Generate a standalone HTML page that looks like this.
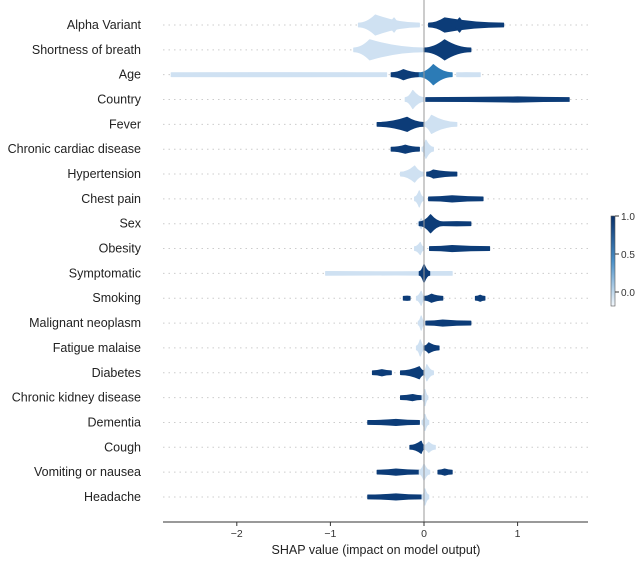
<!DOCTYPE html>
<html><head><meta charset="utf-8"><style>
body{margin:0;background:#fff;font-family:"Liberation Sans",sans-serif}
</style></head><body>
<svg id="chart" width="640" height="559" xmlns="http://www.w3.org/2000/svg">
<defs><linearGradient id="cb" x1="0" y1="0" x2="0" y2="1"><stop offset="0" stop-color="#08306b"/><stop offset="0.5" stop-color="#4a90c8"/><stop offset="1" stop-color="#f4f8fc"/></linearGradient></defs>
<g id="grid"></g><g id="marks"></g><g id="labels"></g><g id="axis"></g>
<rect x="611" y="216" width="4" height="90" fill="url(#cb)" stroke="#555" stroke-width="0.6"/>
<g font-size="10" fill="#333">
<line x1="615" y1="216" x2="619" y2="216" stroke="#333"/><text x="621" y="220">1.0</text>
<line x1="615" y1="254" x2="619" y2="254" stroke="#333"/><text x="621" y="258">0.5</text>
<line x1="615" y1="292" x2="619" y2="292" stroke="#333"/><text x="621" y="296">0.0</text>
</g>
</svg>
<script>
const features=["Alpha Variant","Shortness of breath","Age","Country","Fever","Chronic cardiac disease","Hypertension","Chest pain","Sex","Obesity","Symptomatic","Smoking","Malignant neoplasm","Fatigue malaise","Diabetes","Chronic kidney disease","Dementia","Cough","Vomiting or nausea","Headache"];
// segments per feature: [xmin, xmax, peakX, halfHeight, color 0=low,1=high,2=mid]
const segments=[
 [[-0.7,-0.05,-0.52,10,0],[-0.4,-0.25,-0.32,7,0],[0.05,0.85,0.22,7,1],[0.3,0.45,0.38,7,1]],
 [[-0.75,0,-0.58,10,0],[0,0.5,0.22,10,1]],
 [[-2.7,-0.4,-1.5,2,0],[-0.35,-0.05,-0.22,5,1],[-0.05,0.3,0.1,10,2],[0.35,0.6,0.45,2,0]],
 [[-0.2,0,-0.12,9,0],[0.02,1.55,1.0,2.5,1]],
 [[-0.5,0,-0.18,7,1],[0,0.35,0.08,9,0]],
 [[-0.35,-0.05,-0.2,4,1],[-0.02,0.1,0.02,9,0]],
 [[-0.25,-0.01,-0.1,8,0],[0.03,0.35,0.1,4,1]],
 [[-0.1,-0.01,-0.05,8,0],[0.05,0.63,0.3,3,1]],
 [[-0.06,-0.01,-0.03,5,0],[-0.05,0.2,0.07,9,1],[0.2,0.5,0.35,2,1]],
 [[-0.1,-0.01,-0.04,6,0],[0.06,0.7,0.3,3,1]],
 [[-1.05,0.3,-0.3,1.5,0],[-0.05,0.06,0.0,9,1]],
 [[-0.08,0,-0.03,7,0],[0,0.2,0.08,4,1],[0.55,0.65,0.6,3,1],[-0.22,-0.15,-0.18,2,1]],
 [[-0.06,0,-0.03,7,0],[0.02,0.5,0.2,3,1]],
 [[-0.08,0,-0.04,8,0],[0,0.16,0.05,5,1]],
 [[-0.55,-0.35,-0.45,3,1],[-0.25,0,-0.05,6,1],[0,0.1,0.03,8,0]],
 [[-0.25,-0.03,-0.12,3,1],[-0.02,0.04,0.01,8,0]],
 [[-0.6,-0.05,-0.3,3,1],[-0.02,0.05,0.01,8,0]],
 [[-0.15,0,-0.03,6,1],[0,0.12,0.05,5,0]],
 [[-0.5,-0.05,-0.3,3,1],[0.15,0.3,0.22,3,1],[-0.05,0.06,0,8,0]],
 [[-0.6,-0.03,-0.3,3,1],[-0.02,0.05,0.01,8,0]]
];
const xTicks=[-2,-1,0,1];
const X0=424,SC=93.6,Y0=25,DY=24.84;
const sx=v=>X0+v*SC, sy=i=>Y0+i*DY;
const colors=["#cfe1f2","#0c3c78","#2c7bb6"];
const NS="http://www.w3.org/2000/svg";
const mk=(t,a,p)=>{const e=document.createElementNS(NS,t);for(const k in a)e.setAttribute(k,a[k]);p.appendChild(e);return e;};
const grid=document.getElementById('grid'),marks=document.getElementById('marks'),labels=document.getElementById('labels'),axis=document.getElementById('axis');
features.forEach((f,i)=>{
 const y=sy(i);
 const g=mk('line',{x1:163,x2:588,y1:y,y2:y,stroke:'#ccc','stroke-width':1,'stroke-dasharray':'1.5,4'},grid);
 
 
 const t=mk('text',{x:141,y:y+4,'text-anchor':'end','font-size':12.5,fill:'#222'},labels);
 t.textContent=f;
 
 
 segments[i].forEach(s=>{
  const a=sx(s[0]),b=sx(s[1]),p=sx(s[2]),h=s[3],th=1.8;
  const d=`M${a},${y-th} Q${(a+p)/2},${y-th} ${p},${y-h} Q${(p+b)/2},${y-th} ${b},${y-th} L${b},${y+th} Q${(p+b)/2},${y+th} ${p},${y+h} Q${(a+p)/2},${y+th} ${a},${y+th} Z`;
  const e=mk('path',{d:d,fill:colors[s[4]],stroke:colors[s[4]],'stroke-width':1.2,'stroke-linejoin':'round'},marks);
  
  
 });
});
const zl=mk('line',{x1:sx(0),x2:sx(0),y1:0,y2:522,stroke:'#999','stroke-width':1},axis);


const al=mk('line',{x1:163,x2:588,y1:522,y2:522,stroke:'#333','stroke-width':1},axis);


xTicks.forEach(v=>{
 mk('line',{x1:sx(v),x2:sx(v),y1:522,y2:526,stroke:'#333'},axis);
 const t=mk('text',{x:sx(v),y:537,'text-anchor':'middle','font-size':10.5,fill:'#333'},axis);
 t.textContent=v<0?'\u2212'+(-v):String(v);
 
 
});
const xt=mk('text',{x:376,y:554,'text-anchor':'middle','font-size':12.5,fill:'#222'},axis);
xt.textContent='SHAP value (impact on model output)';


</script>
</body></html>
